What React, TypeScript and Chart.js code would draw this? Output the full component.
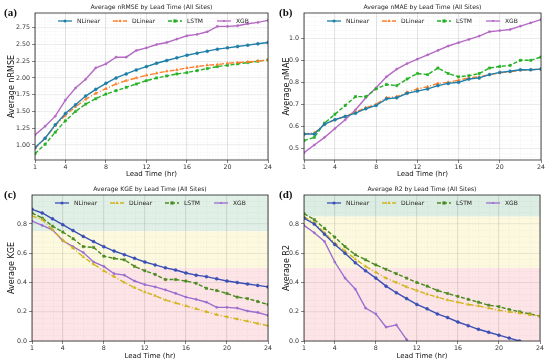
import { useEffect, useRef } from "react";
import { Chart, registerables } from "chart.js";

Chart.register(...registerables);

const HOURS = [1, 2, 3, 4, 5, 6, 7, 8, 9, 10, 11, 12, 13, 14, 15, 16, 17, 18, 19, 20, 21, 22, 23, 24];
const X_TICKS = [1, 4, 8, 12, 16, 20, 24];
const MODELS = ["NLinear", "DLinear", "LSTM", "XGB"];

// (a) nRMSE
const NRMSE_NLINEAR = [0.96, 1.1, 1.3, 1.47, 1.6, 1.73, 1.83, 1.92, 2.0, 2.06, 2.12, 2.17, 2.22, 2.26, 2.3, 2.34, 2.37, 2.4, 2.43, 2.45, 2.47, 2.49, 2.51, 2.53];
const NRMSE_DLINEAR = [0.95, 1.1, 1.29, 1.44, 1.57, 1.68, 1.77, 1.84, 1.91, 1.96, 2.0, 2.04, 2.07, 2.1, 2.12, 2.15, 2.17, 2.19, 2.2, 2.22, 2.23, 2.24, 2.25, 2.27];
const NRMSE_LSTM = [0.87, 1.01, 1.19, 1.36, 1.5, 1.61, 1.69, 1.76, 1.81, 1.86, 1.91, 1.96, 2.0, 2.03, 2.06, 2.08, 2.11, 2.14, 2.17, 2.19, 2.21, 2.23, 2.25, 2.27];
const NRMSE_XGB = [1.15, 1.28, 1.43, 1.67, 1.85, 1.98, 2.15, 2.21, 2.31, 2.31, 2.41, 2.45, 2.5, 2.53, 2.58, 2.63, 2.65, 2.69, 2.77, 2.77, 2.78, 2.81, 2.83, 2.86];
const NRMSE_TICKS = [1.0, 1.25, 1.5, 1.75, 2.0, 2.25, 2.5, 2.75];

// (b) nMAE
const NMAE_NLINEAR = [0.565, 0.565, 0.61, 0.63, 0.645, 0.66, 0.68, 0.695, 0.725, 0.73, 0.75, 0.76, 0.77, 0.785, 0.795, 0.8, 0.815, 0.82, 0.835, 0.845, 0.85, 0.857, 0.857, 0.86];
const NMAE_DLINEAR = [0.565, 0.57, 0.61, 0.63, 0.645, 0.665, 0.685, 0.7, 0.73, 0.735, 0.755, 0.77, 0.78, 0.795, 0.8, 0.81, 0.82, 0.825, 0.835, 0.843, 0.848, 0.855, 0.857, 0.86];
const NMAE_LSTM = [0.535, 0.55, 0.615, 0.655, 0.695, 0.735, 0.735, 0.77, 0.79, 0.785, 0.815, 0.84, 0.835, 0.865, 0.84, 0.825, 0.83, 0.84, 0.865, 0.872, 0.877, 0.9, 0.9, 0.915];
const NMAE_XGB = [0.48, 0.515, 0.55, 0.59, 0.63, 0.675, 0.73, 0.775, 0.825, 0.86, 0.885, 0.905, 0.925, 0.945, 0.965, 0.98, 0.995, 1.01, 1.03, 1.035, 1.04, 1.055, 1.07, 1.085];
const NMAE_TICKS = [0.5, 0.6, 0.7, 0.8, 0.9, 1.0];

// (c) KGE
const KGE_NLINEAR = [0.9, 0.875, 0.835, 0.795, 0.755, 0.715, 0.68, 0.645, 0.615, 0.59, 0.565, 0.54, 0.52, 0.5, 0.485, 0.465, 0.45, 0.44, 0.425, 0.41, 0.4, 0.39, 0.38, 0.37];
const KGE_DLINEAR = [0.855, 0.83, 0.76, 0.69, 0.635, 0.575, 0.525, 0.48, 0.44, 0.4, 0.365, 0.335, 0.31, 0.28, 0.26, 0.24, 0.22, 0.2, 0.18, 0.165, 0.15, 0.135, 0.12, 0.105];
const KGE_LSTM = [0.875, 0.84, 0.785, 0.745, 0.7, 0.645, 0.64, 0.58, 0.565, 0.555, 0.51, 0.48, 0.455, 0.42, 0.42, 0.41, 0.395, 0.36, 0.345, 0.325, 0.3, 0.29, 0.27, 0.25];
const KGE_XGB = [0.82, 0.79, 0.76, 0.685, 0.645, 0.605, 0.54, 0.51, 0.46, 0.45, 0.41, 0.385, 0.37, 0.35, 0.325, 0.3, 0.285, 0.265, 0.23, 0.23, 0.225, 0.205, 0.195, 0.175];
const KGE_BANDS = [
  { from: 0.75, to: 1.0, color: "#e1f0e7" },
  { from: 0.5, to: 0.75, color: "#fcf9df" },
  { from: 0.0, to: 0.5, color: "#fde4e6" },
];

// (d) R2
const R2_NLINEAR = [0.84, 0.8, 0.73, 0.66, 0.6, 0.535, 0.48, 0.43, 0.375, 0.33, 0.29, 0.25, 0.22, 0.185, 0.16, 0.13, 0.105, 0.08, 0.06, 0.04, 0.02, 0.0, -0.02, -0.04];
const R2_DLINEAR = [0.85, 0.81, 0.74, 0.67, 0.615, 0.56, 0.51, 0.47, 0.43, 0.4, 0.37, 0.345, 0.32, 0.3, 0.28, 0.265, 0.25, 0.24, 0.225, 0.21, 0.2, 0.19, 0.18, 0.17];
const R2_LSTM = [0.87, 0.83, 0.77, 0.71, 0.645, 0.59, 0.555, 0.52, 0.49, 0.46, 0.43, 0.4, 0.375, 0.345, 0.325, 0.305, 0.285, 0.265, 0.245, 0.235, 0.215, 0.2, 0.185, 0.17];
const R2_XGB = [0.79, 0.74, 0.68, 0.54, 0.43, 0.355, 0.225, 0.185, 0.095, 0.11, 0.01, -0.08, null, null, null, null, null, null, null, null, null, null, null, null];
const SCORE_TICKS = [0.0, 0.2, 0.4, 0.6, 0.8];
const R2_BANDS = [
  { from: 0.85, to: 1.0, color: "#dcede3" },
  { from: 0.5, to: 0.85, color: "#fcf9df" },
  { from: 0.0, to: 0.5, color: "#fde4e6" },
];

const COLORS_TOP = ["#1f7fa8", "#ff7f2a", "#22b022", "#b46ac4"];
const COLORS_BOTTOM = ["#3a4fb5", "#d2b41e", "#4a8a20", "#9b6cd0"];
const DASHES = [[], [5, 2, 1, 2], [4, 2], []];
const STYLES = ["circle", "triangle", "rect", "circle"];
const RADII = [1.5, 1.6, 1.6, 1.1];

const SANS = '"DejaVu Sans", sans-serif';

type Panel = {
  tag: string;
  title: string;
  ylabel: string;
  series: (number | null)[][];
  colors: string[];
  yMin: number;
  yMax: number;
  yTicks: number[];
  decimals: number;
  bands?: { from: number; to: number; color: string }[];
  yw: number;
  xh: number;
  top: number;
  right: number;
  left: number;
  topPos: number;
};

const PANELS: Panel[] = [
  { tag: "(a)", title: "Average nRMSE by Lead Time (All Sites)", ylabel: "Average nRMSE", series: [NRMSE_NLINEAR, NRMSE_DLINEAR, NRMSE_LSTM, NRMSE_XGB], colors: COLORS_TOP, yMin: 0.775, yMax: 2.97, yTicks: NRMSE_TICKS, decimals: 2, yw: 35, xh: 22, top: 13, right: 7, left: 0, topPos: 0 },
  { tag: "(b)", title: "Average nMAE by Lead Time (All Sites)", ylabel: "Average nMAE", series: [NMAE_NLINEAR, NMAE_DLINEAR, NMAE_LSTM, NMAE_XGB], colors: COLORS_TOP, yMin: 0.447, yMax: 1.115, yTicks: NMAE_TICKS, decimals: 1, yw: 29, xh: 22, top: 13, right: 9, left: 275, topPos: 0 },
  { tag: "(c)", title: "Average KGE by Lead Time (All Sites)", ylabel: "Average KGE", series: [KGE_NLINEAR, KGE_DLINEAR, KGE_LSTM, KGE_XGB], colors: COLORS_BOTTOM, yMin: 0, yMax: 0.998, yTicks: SCORE_TICKS, decimals: 1, bands: KGE_BANDS, yw: 32, xh: 23, top: 13, right: 7, left: 0, topPos: 182 },
  { tag: "(d)", title: "Average R2 by Lead Time (All Sites)", ylabel: "Average R2", series: [R2_NLINEAR, R2_DLINEAR, R2_LSTM, R2_XGB], colors: COLORS_BOTTOM, yMin: 0, yMax: 0.998, yTicks: SCORE_TICKS, decimals: 1, bands: R2_BANDS, yw: 29, xh: 23, top: 13, right: 10, left: 275, topPos: 182 },
];

const LEGEND_OFFSETS = [23, 78, 133, 182];

function drawMarker(ctx: CanvasRenderingContext2D, style: string, x: number, y: number, r: number, color: string) {
  ctx.save();
  ctx.fillStyle = color;
  ctx.strokeStyle = color;
  ctx.setLineDash([]);
  ctx.beginPath();
  if (style === "rect") {
    ctx.rect(x - r, y - r, 2 * r, 2 * r);
  } else if (style === "triangle") {
    ctx.moveTo(x, y - r * 1.2);
    ctx.lineTo(x + r * 1.1, y + r * 0.7);
    ctx.lineTo(x - r * 1.1, y + r * 0.7);
    ctx.closePath();
  } else {
    ctx.arc(x, y, r, 0, Math.PI * 2);
  }
  ctx.fill();
  ctx.restore();
}

function decorPlugin(p: Panel) {
  return {
    id: "decor",
    beforeDraw(chart: any) {
      const { ctx, chartArea: a, scales } = chart;
      const y = scales.y;
      if (p.bands) {
        ctx.save();
        for (const b of p.bands) {
          const y1 = Math.max(a.top, y.getPixelForValue(b.to));
          const y2 = Math.min(a.bottom, y.getPixelForValue(b.from));
          ctx.fillStyle = b.color;
          ctx.fillRect(a.left, y1, a.right - a.left, y2 - y1);
        }
        ctx.restore();
      }
    },
    beforeDatasetsDraw(chart: any) {
      const { ctx, chartArea: a, scales } = chart;
      const x = scales.x;
      const y = scales.y;
      ctx.save();
      ctx.strokeStyle = "rgba(0,0,0,0.07)";
      ctx.lineWidth = 0.5;
      ctx.setLineDash([1.5, 1.5]);
      for (const h of HOURS) {
        const px = Math.round(x.getPixelForValue(h)) + 0.5;
        ctx.beginPath();
        ctx.moveTo(px, a.top);
        ctx.lineTo(px, a.bottom);
        ctx.stroke();
      }
      const step = (p.yTicks[1] - p.yTicks[0]) / 5;
      for (let v = p.yTicks[0] - step * 10; v <= p.yMax; v += step) {
        if (v < p.yMin) continue;
        const py = Math.round(y.getPixelForValue(v)) + 0.5;
        ctx.beginPath();
        ctx.moveTo(a.left, py);
        ctx.lineTo(a.right, py);
        ctx.stroke();
      }
      ctx.restore();
    },
    afterDraw(chart: any) {
      const { ctx, chartArea: a } = chart;
      ctx.save();
      // frame
      ctx.strokeStyle = "#222";
      ctx.lineWidth = 0.8;
      ctx.setLineDash([]);
      ctx.strokeRect(a.left, a.top, a.right - a.left, a.bottom - a.top);
      // legend
      const ly = a.top + 8;
      ctx.font = `6px ${SANS}`;
      ctx.textBaseline = "middle";
      ctx.textAlign = "left";
      MODELS.forEach((m, i) => {
        const sx = a.left + LEGEND_OFFSETS[i];
        ctx.strokeStyle = p.colors[i];
        ctx.lineWidth = 1.3;
        ctx.setLineDash(DASHES[i]);
        ctx.beginPath();
        ctx.moveTo(sx, ly);
        ctx.lineTo(sx + 14, ly);
        ctx.stroke();
        drawMarker(ctx, STYLES[i], sx + 7, ly, RADII[i], p.colors[i]);
        ctx.fillStyle = "#222";
        ctx.fillText(m, sx + 19, ly + 0.5);
      });
      // title
      ctx.font = `6.1px ${SANS}`;
      ctx.textAlign = "center";
      ctx.fillStyle = "#222";
      ctx.fillText(p.title, (a.left + a.right) / 2, a.top - 6);
      // panel tag
      ctx.font = `bold 11px "Liberation Serif", serif`;
      ctx.textAlign = "left";
      ctx.fillStyle = "#111";
      ctx.fillText(p.tag, 4, 13);
      ctx.restore();
    },
  };
}

function makeConfig(p: Panel): any {
  return {
    type: "line",
    data: {
      datasets: p.series.map((s, i) => ({
        label: MODELS[i],
        data: HOURS.map((h, j) => ({ x: h, y: s[j] })),
        borderColor: p.colors[i],
        backgroundColor: p.colors[i],
        borderWidth: 1.4,
        borderDash: DASHES[i],
        pointStyle: STYLES[i],
        pointRadius: RADII[i],
        pointBorderWidth: 0.5,
        pointBorderColor: p.colors[i],
        pointBackgroundColor: p.colors[i],
        tension: 0,
        spanGaps: false,
        clip: 0,
      })),
    },
    options: {
      responsive: false,
      animation: false,
      devicePixelRatio: 1,
      layout: { padding: { top: p.top, right: p.right, left: 0, bottom: 0 } },
      plugins: { legend: { display: false }, tooltip: { enabled: false }, title: { display: false } },
      scales: {
        x: {
          type: "linear",
          min: 1,
          max: 24,
          afterBuildTicks: (s: any) => {
            s.ticks = X_TICKS.map((v) => ({ value: v }));
          },
          afterFit: (s: any) => {
            s.height = p.xh;
          },
          ticks: {
            font: { family: SANS, size: 6.3 },
            color: "#333",
            padding: 1,
            maxRotation: 0,
            autoSkip: false,
            callback: (v: any) => String(v),
          },
          grid: { color: "rgba(0,0,0,0.16)", lineWidth: 0.6, tickColor: "#333", tickLength: 3, tickWidth: 0.6 },
          border: { display: false },
          title: { display: true, text: "Lead Time (hr)", font: { family: SANS, size: 7 }, color: "#111", padding: { top: 0, bottom: 3.3 } },
        },
        y: {
          type: "linear",
          min: p.yMin,
          max: p.yMax,
          afterBuildTicks: (s: any) => {
            s.ticks = p.yTicks.map((v) => ({ value: v }));
          },
          afterFit: (s: any) => {
            s.width = p.yw;
          },
          ticks: {
            font: { family: SANS, size: 6.3 },
            color: "#333",
            padding: 2,
            autoSkip: false,
            callback: (v: any) => Number(v).toFixed(p.decimals),
          },
          grid: { color: "rgba(0,0,0,0.1)", lineWidth: 0.6, tickColor: "#333", tickLength: 3, tickWidth: 0.6 },
          border: { display: false },
          title: { display: true, text: p.ylabel, font: { family: SANS, size: 8 }, color: "#111", padding: { top: 7.5, bottom: 0 } },
        },
      },
    },
    plugins: [decorPlugin(p)],
  };
}

function PanelChart({ p }: { p: Panel }) {
  const ref = useRef<HTMLCanvasElement | null>(null);
  useEffect(() => {
    if (!ref.current) return;
    const chart = new Chart(ref.current, makeConfig(p));
    return () => chart.destroy();
  }, [p]);
  return (
    <div style={{ position: "absolute", left: p.left, top: p.topPos, width: 275, height: 182 }}>
      <canvas ref={ref} width={275} height={182} style={{ width: 275, height: 182, display: "block" }} />
    </div>
  );
}

export default function App() {
  return (
    <div style={{ position: "absolute", left: 0, top: 0, width: 550, height: 364, background: "#fff" }}>
      {PANELS.map((p) => (
        <PanelChart key={p.tag} p={p} />
      ))}
    </div>
  );
}
